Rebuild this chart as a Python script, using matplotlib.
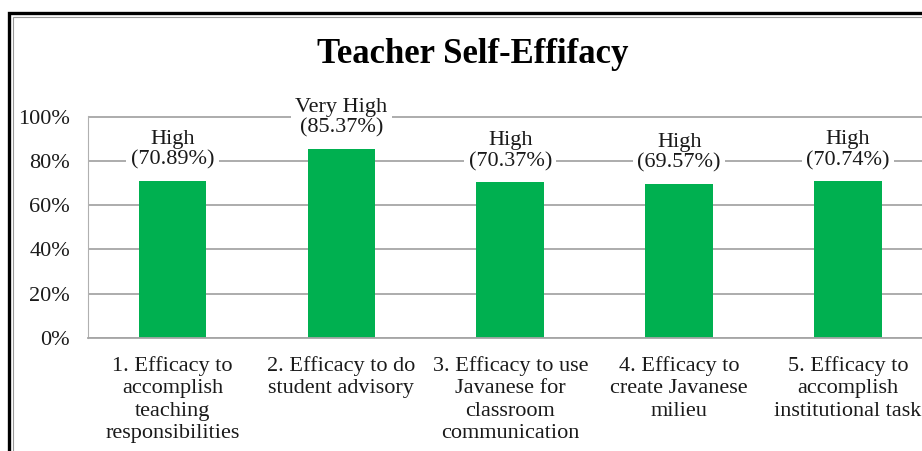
import matplotlib.pyplot as plt
from matplotlib.patches import Rectangle
from matplotlib.ticker import FuncFormatter

# data
categories = [
    "1. Efficacy to\naccomplish\nteaching\nresponsibilities",
    "2. Efficacy to do\nstudent advisory",
    "3. Efficacy to use\nJavanese for\nclassroom\ncommunication",
    "4. Efficacy to\ncreate Javanese\nmilieu",
    "5. Efficacy to\naccomplish\ninstitutional task",
]
values = [70.89, 85.37, 70.37, 69.57, 70.74]
levels = ["High", "Very High", "High", "High", "High"]
yticks = [0, 20, 40, 60, 80, 100]

plt.rcParams['font.family'] = ['Liberation Serif', 'DejaVu Serif']

W, H = 922, 451
fig = plt.figure(figsize=(W / 100, H / 100), dpi=100)
fig.patch.set_facecolor('white')

# frame (picture border + chart border), runs off the right/bottom edge
fig.patches.append(Rectangle((8.5 / W, -0.1), 1.2, 1 - 13 / H + 0.1,
                             transform=fig.transFigure, fill=False,
                             edgecolor='black', lw=2.4, clip_on=False))
fig.patches.append(Rectangle((12.5 / W, -0.1), 1.2, 1 - 16.5 / H + 0.1,
                             transform=fig.transFigure, fill=False,
                             edgecolor='#9a9a9a', lw=0.8, clip_on=False))

ax = fig.add_axes([88 / W, 1 - 338 / H, (932.5 - 88) / W, (338 - 116) / H])
ax.set_facecolor('none')

x = list(range(len(values)))
fracs = [v / 100 for v in values]
bars = ax.bar(x, fracs, width=0.40, color='#00B050', zorder=2)

ax.set_xlim(-0.5, len(values) - 0.5)
ax.set_ylim(0, 1.003)
ax.set_yticks([t / 100 for t in yticks])
ax.yaxis.set_major_formatter(FuncFormatter(lambda v, p: f"{v * 100:.0f}%"))
ax.set_xticks(x)
ax.set_xticklabels(categories, fontsize=16, linespacing=1.24, color='#1a1a1a')
ax.tick_params(axis='y', length=0, pad=13, labelsize=16, labelcolor='#1a1a1a')
ax.tick_params(axis='x', length=0, pad=13)

ax.set_axisbelow(True)
ax.grid(axis='y', color='#a6a6a6', lw=1.3)
for s in ['top', 'right']:
    ax.spines[s].set_visible(False)
ax.spines['left'].set_color('#b0b0b0')
ax.spines['bottom'].set_color('#a6a6a6')
ax.spines['bottom'].set_linewidth(1.3)

for b, lev, v in zip(bars, levels, values):
    ax.annotate(f"{lev}\n({v:.2f}%)", (b.get_x() + b.get_width() / 2, b.get_height()),
                xytext=(0, 8), textcoords='offset points', ha='center', va='bottom',
                fontsize=16, linespacing=1.15, color='#1a1a1a', zorder=4,
                bbox=dict(boxstyle='square,pad=0.2', fc='white', ec='none'))

fig.text(473 / W, 1 - 63 / H, "Teacher Self-Effifacy", ha='center', va='baseline',
         fontsize=25, fontweight='bold', color='black')

fig.savefig('out.png', dpi=100, facecolor='white')
